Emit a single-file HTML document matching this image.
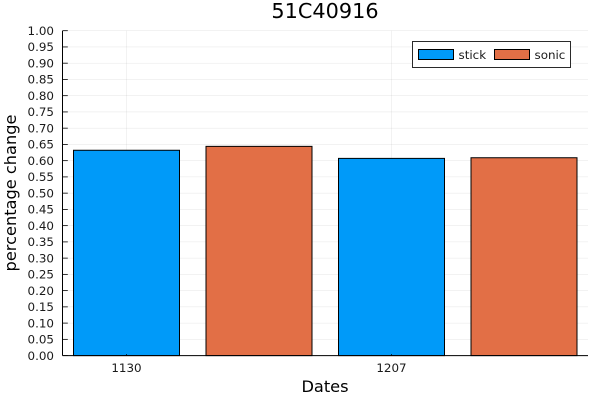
<!DOCTYPE html>
<html lang="en">
<head>
<meta charset="utf-8">
<title>51C40916</title>
<style>
html,body{margin:0;padding:0;background:#fff;}
svg{display:block;font-family:"DejaVu Sans","Liberation Sans",sans-serif;}
</style>
</head>
<body>
<svg id="chart" width="600" height="400" viewBox="0 0 600 400" xmlns="http://www.w3.org/2000/svg">
  <rect x="0" y="0" width="600" height="400" fill="#ffffff"/>
  <g id="grid"></g>
  <g id="bars"></g>
  <g id="axes"></g>
  <text x="325" y="18" font-size="20.8" text-anchor="middle" fill="#000">51C40916</text>
  <text x="325" y="392" font-size="16.2" text-anchor="middle" fill="#000">Dates</text>
  <text transform="translate(16.2 193) rotate(-90)" font-size="16.2" text-anchor="middle" fill="#000">percentage change</text>
  <g>
    <rect x="412.5" y="41.5" width="158" height="26" fill="#fff" stroke="#2a2a2a" stroke-width="1"/>
    <rect x="418.5" y="49.5" width="35" height="10" fill="#009af9" stroke="#000" stroke-width="1"/>
    <text x="458.5" y="59" font-size="11.9" fill="#1a1a1a">stick</text>
    <rect x="494.5" y="49.5" width="35" height="10" fill="#e26f46" stroke="#000" stroke-width="1"/>
    <text x="534.5" y="59" font-size="11.9" fill="#1a1a1a">sonic</text>
  </g>
</svg>
<script>
const categories = ["1130", "1207"];
const groups = ["stick", "sonic", "stick", "sonic"];
const barValues = [0.632, 0.644, 0.607, 0.609];
const yTickLabels = ["0.00","0.05","0.10","0.15","0.20","0.25","0.30","0.35","0.40","0.45","0.50","0.55","0.60","0.65","0.70","0.75","0.80","0.85","0.90","0.95","1.00"];

const NS = "http://www.w3.org/2000/svg";
const colorOf = { stick: "#009af9", sonic: "#e26f46" };
const plotLeft = 62.5, plotRight = 588, plotTop = 30.7, plotBottom = 355.6;
const yScale = v => plotBottom - v * (plotBottom - plotTop);
const xScale = i => 126.5 + i * 132.5;
const barWidth = 0.8 * 132.5;

function mk(tag, attrs, parent) {
  const el = document.createElementNS(NS, tag);
  for (const k in attrs) el.setAttribute(k, attrs[k]);
  parent.appendChild(el);
  return el;
}
const gridG = document.getElementById("grid");
const barsG = document.getElementById("bars");
const axesG = document.getElementById("axes");

yTickLabels.forEach(label => {
  const y = yScale(parseFloat(label));
  const g = mk("line", { x1: plotLeft, x2: plotRight, y1: y, y2: y, stroke: "#000", "stroke-opacity": 0.1, "stroke-width": 0.5 }, gridG);
  
  
  const t = mk("line", { x1: plotLeft, x2: plotLeft + 5.3, y1: y, y2: y, stroke: "#000", "stroke-width": 0.8 }, axesG);
  
  
  const txt = mk("text", { x: 54, y: y + 4.3, "font-size": 11.9, "text-anchor": "end", fill: "#1a1a1a" }, axesG);
  
  
  txt.textContent = label;
});

categories.forEach((label, i) => {
  const x = xScale(i * 2);
  const g = mk("line", { x1: x, x2: x, y1: plotTop, y2: plotBottom, stroke: "#000", "stroke-opacity": 0.1, "stroke-width": 0.5 }, gridG);
  
  
  const t = mk("line", { x1: x, x2: x, y1: plotBottom, y2: plotBottom - 1.5, stroke: "#000", "stroke-width": 0.8 }, axesG);
  
  
  const txt = mk("text", { x: x, y: 372, "font-size": 11.9, "text-anchor": "middle", fill: "#1a1a1a" }, axesG);
  
  
  txt.textContent = label;
});

barValues.forEach((v, i) => {
  const y = yScale(v);
  const r = mk("rect", { x: xScale(i) - barWidth / 2, y: y, width: barWidth, height: plotBottom - y, fill: colorOf[groups[i]], stroke: "#000", "stroke-width": 1 }, barsG);
  
  
});

const sl = mk("line", { x1: plotLeft, x2: plotLeft, y1: plotTop, y2: plotBottom, stroke: "#000", "stroke-width": 1 }, axesG);


const sb = mk("line", { x1: plotLeft, x2: plotRight, y1: plotBottom, y2: plotBottom, stroke: "#000", "stroke-width": 1 }, axesG);


</script>
</body>
</html>
